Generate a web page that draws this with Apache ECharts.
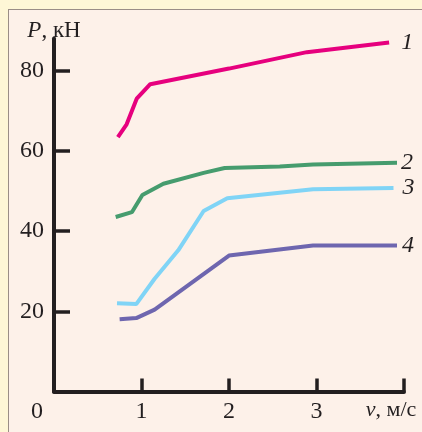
<!DOCTYPE html>
<html><head><meta charset="utf-8">
<script src="https://cdn.jsdelivr.net/npm/echarts@6/dist/echarts.min.js"></script>
<style>
html,body{margin:0;padding:0;background:#FEF7D6;width:422px;height:432px;overflow:hidden;}
#panel{position:absolute;left:8px;top:9px;width:440px;height:450px;background:#FDF1E9;border:1.5px solid #9A8E86;}
#chart{position:absolute;left:0;top:0;width:422px;height:432px;}
</style></head>
<body>
<div id="panel"></div>
<div id="chart"></div>
<script>
const xTicks = [0, 1, 2, 3, 4];
const yTicks = [20, 40, 60, 80];
const seriesNames = ['1', '2', '3', '4'];
const curve1 = [[0.73,63.4],[0.83,66.6],[0.945,73.0],[1.10,76.6],[2.0,80.5],[2.89,84.6],[3.83,87.0]];
const curve2 = [[0.705,43.5],[0.89,44.7],[1.01,49.0],[1.25,51.8],[1.71,54.5],[1.95,55.7],[2.58,56.1],[2.96,56.6],[3.92,57.0]];
const curve3 = [[0.72,22.0],[0.94,21.8],[1.15,28.1],[1.42,35.2],[1.71,45.0],[1.98,48.2],[2.96,50.4],[3.88,50.7]];
const curve4 = [[0.75,18.0],[0.94,18.3],[1.15,20.4],[2.00,33.9],[2.96,36.4],[3.92,36.4]];
const curves = [curve1, curve2, curve3, curve4];
const colors = ['#E6007E', '#469C6E', '#80D4F6', '#6E66AF'];
const labelDist = [12, 4, 9, 5];

const font = 'Liberation Serif';
const txt = '#231F20';
const chart = echarts.init(document.getElementById('chart'));
chart.setOption({
  animation: false,
  grid: {left: 54, right: 18, top: 38.5, bottom: 40.5},
  xAxis: {
    type: 'value', min: 0, max: 4, interval: 1,
    axisLine: {show: true, lineStyle: {color: txt, width: 4}},
    splitLine: {show: false},
    axisTick: {show: true, inside: true, length: 13, lineStyle: {color: txt, width: 3.5}, customValues: [1,2,3,4]},
    axisLabel: {
      customValues: xTicks, margin: 8, color: txt, fontFamily: font, fontSize: 24,
      formatter: v => v === 0 ? '{z|0}' : (v === 4 ? '{n|v}{u|, м/с}' : String(v)),
      rich: {
        z: {fontFamily: font, fontSize: 24, color: txt, padding: [0, 34, 0, 0]},
        n: {fontFamily: font, fontSize: 22, fontStyle: 'italic', color: txt},
        u: {fontFamily: font, fontSize: 22, color: txt, padding: [0, 26, 0, 0]}
      }
    }
  },
  yAxis: {
    type: 'value', min: 0, max: 88,
    name: '{p|P}{u|, кН}', nameLocation: 'end', nameGap: -4,
    nameTextStyle: {
      rich: {
        p: {fontFamily: font, fontSize: 23, fontStyle: 'italic', color: txt},
        u: {fontFamily: font, fontSize: 23, color: txt}
      }
    },
    axisLine: {show: true, lineStyle: {color: txt, width: 4}},
    splitLine: {show: false},
    axisTick: {show: true, inside: true, length: 16, lineStyle: {color: txt, width: 3.5}, customValues: yTicks},
    axisLabel: {customValues: yTicks, margin: 10, color: txt, fontFamily: font, fontSize: 24}
  },
  series: curves.map((d, i) => ({
    type: 'line', name: seriesNames[i], data: d, symbol: 'none',
    lineStyle: {color: colors[i], width: 4},
    endLabel: {show: true, formatter: seriesNames[i], distance: labelDist[i],
      fontFamily: font, fontStyle: 'italic', fontSize: 24, color: txt}
  }))
});
</script>
</body></html>
